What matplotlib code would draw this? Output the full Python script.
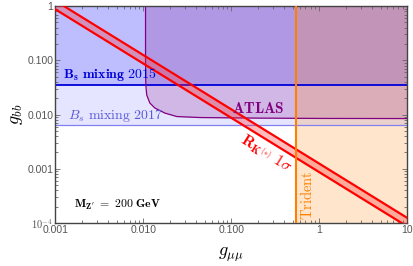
import numpy as np
import matplotlib
matplotlib.use("Agg")
import matplotlib.pyplot as plt

plt.rcParams['mathtext.fontset'] = 'cm'

# ---- data ----
x_range = [0.001, 10]
y_range = [1e-4, 1]
bs2015 = 0.0355          # B_s mixing 2015 bound on g_bb
bs2017 = 0.0063          # B_s mixing 2017 bound on g_bb
trident = 0.54           # trident bound on g_mumu
atlas_gmm = [0.01059, 0.01059, 0.01067, 0.01093, 0.01186, 0.01352, 0.01754, 0.0240, 0.0439, 0.2, 1.0, 10.0]
atlas_gbb = [1.0, 0.101, 0.035, 0.0229, 0.0163, 0.0132, 0.01066, 0.00919, 0.00881, 0.0086, 0.00848, 0.00844]
rk_gmm = [0.001, 10.0]
rk_upper = [1.25, 1.25e-4]
rk_lower = [0.87, 0.87e-4]
xticks = [0.001, 0.01, 0.1, 1, 10]
xticklabels = ['0.001', '0.010', '0.100', '1', '10']
yticks = [1e-4, 0.001, 0.01, 0.1, 1]
yticklabels = [r'$\mathsf{10^{-4}}$', '0.001', '0.010', '0.100', '1']

fig = plt.figure(figsize=(4.14, 2.66), dpi=100)
ax = fig.add_axes([0.134, 0.1617, 0.849, 0.8153])
ax.set_xscale('log')
ax.set_yscale('log')
ax.set_xlim(*x_range)
ax.set_ylim(*y_range)

# regions
ax.axhspan(bs2017, y_range[1], color=(0.55, 0.55, 1.0), alpha=0.22, lw=0, zorder=1)
ax.axhspan(bs2015, y_range[1], color=(0.4, 0.4, 1.0), alpha=0.3, lw=0, zorder=1.1)
ax.fill_between(atlas_gmm, atlas_gbb, y_range[1], color=(0.5, 0.0, 0.5), alpha=0.2, lw=0, zorder=1.2)
ax.axvspan(trident, x_range[1], color=(1.0, 0.55, 0.1), alpha=0.22, lw=0, zorder=1.3)

# lines
ax.axhline(bs2017, color=(0.5, 0.5, 0.95), lw=0.9, zorder=2)
ax.axhline(bs2015, color=(0.0, 0.0, 0.85), lw=1.3, zorder=2)
ax.plot(atlas_gmm, atlas_gbb, color=(0.5, 0.0, 0.5), lw=0.9, zorder=2.1)

ax.fill_between(rk_gmm, rk_lower, rk_upper, color=(1.0, 0.2, 0.2), alpha=0.32, lw=0, zorder=3)
ax.plot(rk_gmm, rk_upper, color='red', lw=1.6, zorder=3.1)
ax.plot(rk_gmm, rk_lower, color='red', lw=1.6, zorder=3.1)
ax.axvline(trident, color=(1.0, 0.5, 0.0), lw=1.5, zorder=3.2)

# texts
ax.text(0.00122, bs2015 * 1.08, r'$\mathbf{B_s\ mixing\ 2015}$', color=(0.0, 0.0, 0.85),
        fontsize=10, ha='left', va='bottom', zorder=4)
ax.text(0.00138, bs2017 * 1.08, r'$B_s\ \mathrm{mixing\ 2017}$', color=(0.35, 0.35, 0.85),
        fontsize=10, ha='left', va='bottom', zorder=4)
ax.text(0.205, 0.0096, r'$\mathbf{ATLAS}$', color=(0.5, 0.0, 0.5),
        fontsize=11, ha='center', va='bottom', zorder=4)
ax.text(0.25, 0.0019, r'$\mathbf{R_{K^{(*)}}}\ 1\sigma$', color='red', fontsize=11.5,
        rotation=-32, rotation_mode='anchor', ha='center', va='center', zorder=4)
ax.text(0.73, 0.00033, r'$\mathrm{Trident}$', color=(1.0, 0.5, 0.0), fontsize=10.5,
        rotation=90, rotation_mode='anchor', ha='center', va='center', zorder=4)
ax.text(0.00162, 0.000215, r"$\mathbf{M_{Z^{\prime}}\ =\ 200\ GeV}$", color='black', fontsize=8.5,
        ha='left', va='center', zorder=4)

ax.set_xticks(xticks)
ax.set_xticklabels(xticklabels)
ax.set_yticks(yticks)
ax.set_yticklabels(yticklabels)
ax.tick_params(which='both', direction='in', top=True, right=True, colors='#666666',
               labelcolor='#555555', labelsize=7.5, width=0.6)
ax.tick_params(which='major', length=3.5)
ax.tick_params(which='minor', length=2)
for lab in ax.get_xticklabels() + ax.get_yticklabels():
    lab.set_fontfamily('Liberation Sans')
ax.tick_params(axis='x', pad=1.5)
ax.tick_params(axis='y', pad=1.5)
for s in ax.spines.values():
    s.set_color('#444444')
    s.set_linewidth(1.0)

ax.set_xlabel(r'$g_{\mu\mu}$', fontsize=13, labelpad=8)
ax.set_ylabel(r'$g_{bb}$', fontsize=13, labelpad=2)

fig.savefig('out.png', dpi=100)
